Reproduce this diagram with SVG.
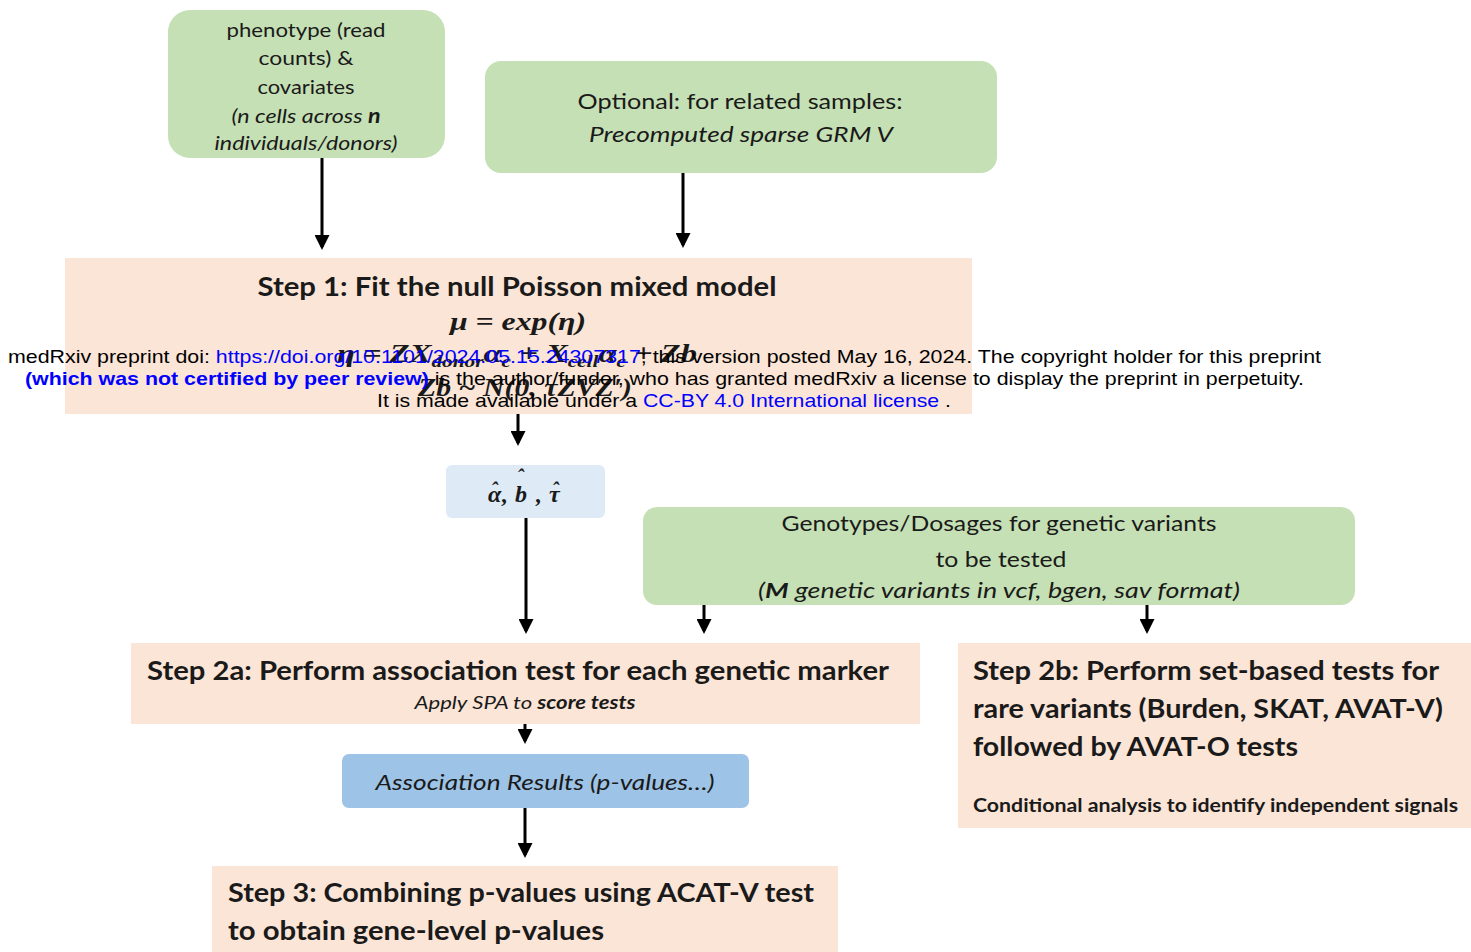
<svg xmlns="http://www.w3.org/2000/svg" width="1471" height="952" viewBox="0 0 1471 952">
<style>
.green{fill:#c5e0b4}
.peach{fill:#fbe5d6}
.lblue{fill:#deebf7}
.mblue{fill:#9dc3e6}
.t{font-family:Lato,"Liberation Sans",sans-serif;fill:#1a1a1a}
.c{text-anchor:middle}
.b{font-weight:bold}
.i{font-style:italic}
.m{font-family:"Liberation Serif",serif;font-weight:bold;font-style:italic;fill:#1a1a1a}
.ov{font-family:"Liberation Sans",Arial,sans-serif;font-size:19px;fill:#000}
.bl{fill:#0000ff}
.conn line{stroke:#000;stroke-width:3;marker-end:url(#ah)}
</style>
<defs>
<marker id="ah" markerWidth="5" markerHeight="5" refX="4" refY="2.5" orient="auto" markerUnits="strokeWidth">
<path d="M0,0 L5,2.5 L0,5 Z" fill="#000"/>
</marker>
</defs>
<rect width="1471" height="952" fill="#fff"/>

<g id="phenotype">
<rect class="green" x="168" y="10" width="277" height="148" rx="22"/>
<text class="t c" font-size="20" x="306" y="37" textLength="159" lengthAdjust="spacingAndGlyphs">phenotype (read</text>
<text class="t c" font-size="20" x="306" y="65" textLength="95" lengthAdjust="spacingAndGlyphs">counts) &amp;</text>
<text class="t c" font-size="20" x="306" y="94" textLength="97" lengthAdjust="spacingAndGlyphs">covariates</text>
<text class="t c i" font-size="20" x="306" y="123" textLength="149" lengthAdjust="spacingAndGlyphs">(n cells across <tspan class="b">n</tspan></text>
<text class="t c i" font-size="20" x="306" y="150" textLength="183" lengthAdjust="spacingAndGlyphs">individuals/donors)</text>
</g>

<g id="grm">
<rect class="green" x="485" y="61" width="512" height="112" rx="16"/>
<text class="t c" font-size="22" x="740" y="109" textLength="325" lengthAdjust="spacingAndGlyphs">Optional: for related samples:</text>
<text class="t c i" font-size="22" x="741" y="142" textLength="304" lengthAdjust="spacingAndGlyphs">Precomputed sparse GRM V</text>
</g>

<g id="step1">
<rect class="peach" x="65" y="258" width="907" height="156"/>
<text class="t c b" font-size="27" x="517" y="296" textLength="519" lengthAdjust="spacingAndGlyphs">Step 1: Fit the null Poisson mixed model</text>
<text class="m" font-size="26" x="450" y="330" textLength="136" lengthAdjust="spacingAndGlyphs">μ = exp(η)</text>
<text class="m" font-size="26" x="337" y="362" textLength="360" lengthAdjust="spacingAndGlyphs">η = ZX<tspan font-size="17" dy="5">donor</tspan><tspan dy="-5">α</tspan><tspan font-size="17" dy="5">c</tspan><tspan dy="-5"> + X</tspan><tspan font-size="17" dy="5">cell</tspan><tspan dy="-5">α</tspan><tspan font-size="17" dy="5">c</tspan><tspan dy="-5"> + Zb</tspan></text>
<text class="m" font-size="26" x="418" y="396" textLength="214" lengthAdjust="spacingAndGlyphs">Zb ~ N(0, τZVZ′)</text>
</g>

<g id="estimates">
<rect class="lblue" x="446" y="465" width="159" height="53" rx="6"/>
<text class="m" font-size="24"><tspan x="488" y="502">α</tspan><tspan x="491" y="497" font-size="20">ˆ</tspan><tspan x="502" y="502">,</tspan><tspan x="515" y="502">b</tspan><tspan x="517" y="484" font-size="20">ˆ</tspan><tspan x="536" y="502">,</tspan><tspan x="549" y="502">τ</tspan><tspan x="552" y="497" font-size="20">ˆ</tspan></text>
</g>

<g id="genotypes">
<rect class="green" x="643" y="507" width="712" height="98" rx="14"/>
<text class="t c" font-size="21" x="999" y="531" textLength="435" lengthAdjust="spacingAndGlyphs">Genotypes/Dosages for genetic variants</text>
<text class="t c" font-size="21" x="1001" y="567" textLength="131" lengthAdjust="spacingAndGlyphs">to be tested</text>
<text class="t c i" font-size="21" x="999" y="598" textLength="482" lengthAdjust="spacingAndGlyphs">(<tspan class="b">M</tspan>  genetic variants in vcf, bgen, sav format)</text>
</g>

<g id="step2a">
<rect class="peach" x="131" y="643" width="789" height="81"/>
<text class="t c b" font-size="27" x="518" y="680" textLength="742" lengthAdjust="spacingAndGlyphs">Step 2a: Perform association test for each genetic marker</text>
<text class="t c i" font-size="18" x="525" y="709" textLength="221" lengthAdjust="spacingAndGlyphs">Apply SPA to <tspan class="b">score tests</tspan></text>
</g>

<g id="results">
<rect class="mblue" x="342" y="754" width="407" height="54" rx="7"/>
<text class="t c i" font-size="22" x="545" y="790" textLength="339" lengthAdjust="spacingAndGlyphs">Association Results (p-values…)</text>
</g>

<g id="step3">
<rect class="peach" x="212" y="866" width="626" height="86"/>
<text class="t b" font-size="27" x="228" y="902" textLength="586" lengthAdjust="spacingAndGlyphs">Step 3: Combining p-values using ACAT-V test</text>
<text class="t b" font-size="27" x="228" y="940" textLength="376" lengthAdjust="spacingAndGlyphs">to obtain gene-level p-values</text>
</g>

<g id="step2b">
<rect class="peach" x="958" y="643" width="513" height="185"/>
<text class="t b" font-size="27" x="973" y="680" textLength="466" lengthAdjust="spacingAndGlyphs">Step 2b: Perform set-based tests for</text>
<text class="t b" font-size="27" x="973" y="718" textLength="470" lengthAdjust="spacingAndGlyphs">rare variants (Burden, SKAT, AVAT-V)</text>
<text class="t b" font-size="27" x="973" y="756" textLength="325" lengthAdjust="spacingAndGlyphs">followed by AVAT-O tests</text>
<text class="t b" font-size="19" x="973" y="812" textLength="485" lengthAdjust="spacingAndGlyphs">Conditional analysis to identify independent signals</text>
</g>

<g id="connectors" class="conn">
<line x1="322" y1="158" x2="322" y2="247"/>
<line x1="683" y1="173" x2="683" y2="245"/>
<line x1="518" y1="414" x2="518" y2="443"/>
<line x1="526" y1="518" x2="526" y2="631"/>
<line x1="704" y1="605" x2="704" y2="631"/>
<line x1="1147" y1="605" x2="1147" y2="631"/>
<line x1="525" y1="724" x2="525" y2="741"/>
<line x1="525" y1="808" x2="525" y2="855"/>
</g>

<g id="overlay">
<text class="ov" x="8" y="363" textLength="1313" lengthAdjust="spacingAndGlyphs">medRxiv preprint doi: <tspan class="bl">https://doi.org/10.1101/2024.05.15.24307317</tspan>; this version posted May 16, 2024. The copyright holder for this preprint</text>
<text class="ov" x="25" y="385" textLength="1279" lengthAdjust="spacingAndGlyphs"><tspan class="bl" font-weight="bold">(which was not certified by peer review)</tspan> is the author/funder, who has granted medRxiv a license to display the preprint in perpetuity.</text>
<text class="ov" x="377" y="407" textLength="574" lengthAdjust="spacingAndGlyphs">It is made available under a <tspan class="bl">CC-BY 4.0 International license</tspan> .</text>
</g>
</svg>
